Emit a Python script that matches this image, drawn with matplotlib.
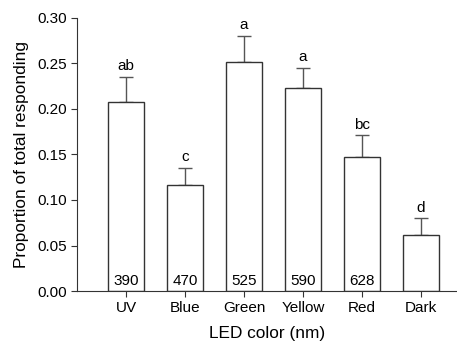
import matplotlib
matplotlib.use("Agg")
import matplotlib.pyplot as plt
import numpy as np

plt.rcParams['font.family'] = ['Liberation Sans', 'DejaVu Sans']

categories = ["UV", "Blue", "Green", "Yellow", "Red", "Dark"]
proportions = [0.208, 0.117, 0.252, 0.223, 0.147, 0.061]
errors = [0.027, 0.018, 0.028, 0.022, 0.024, 0.019]
letters = ["ab", "c", "a", "a", "bc", "d"]
wavelengths = ["390", "470", "525", "590", "628", ""]

fig = plt.figure(figsize=(4.57, 3.44), dpi=100)
ax = fig.add_axes([0.1685, 0.154, 0.8315, 0.794])

x = np.arange(len(categories))
ax.bar(x, proportions, width=0.6, color="white", edgecolor="#333333", linewidth=1.0, zorder=2)
ax.errorbar(x, proportions, yerr=[np.zeros(len(x)), errors], fmt="none",
            ecolor="#555555", elinewidth=1.0, capsize=5, capthick=1.0, zorder=1)

for xi, p, e, l in zip(x, proportions, errors, letters):
    ax.text(xi, p + e + 0.004, l, ha="center", va="bottom", fontsize=11)
for xi, w in zip(x, wavelengths):
    if w:
        ax.text(xi, 0.003, w, ha="center", va="bottom", fontsize=11)

ax.set_xlim(-0.83, 5.61)
ax.set_ylim(0, 0.30)
ax.set_yticks(np.arange(0, 0.301, 0.05))
ax.set_yticklabels([f"{v:.2f}" for v in np.arange(0, 0.301, 0.05)])
ax.set_xticks(x)
ax.set_xticklabels(categories)
ax.tick_params(axis="both", labelsize=11, direction="out", length=4, width=0.8, color="#333333")
ax.tick_params(axis="x", pad=3)
for s in ["top", "right"]:
    ax.spines[s].set_visible(False)
for s in ["left", "bottom"]:
    ax.spines[s].set_linewidth(0.8)
    ax.spines[s].set_color("#333333")

ax.set_xlabel("LED color (nm)", fontsize=12.4, labelpad=8)
ax.set_ylabel("Proportion of total responding", fontsize=12.4, labelpad=6)

fig.savefig("out.png", dpi=100)
